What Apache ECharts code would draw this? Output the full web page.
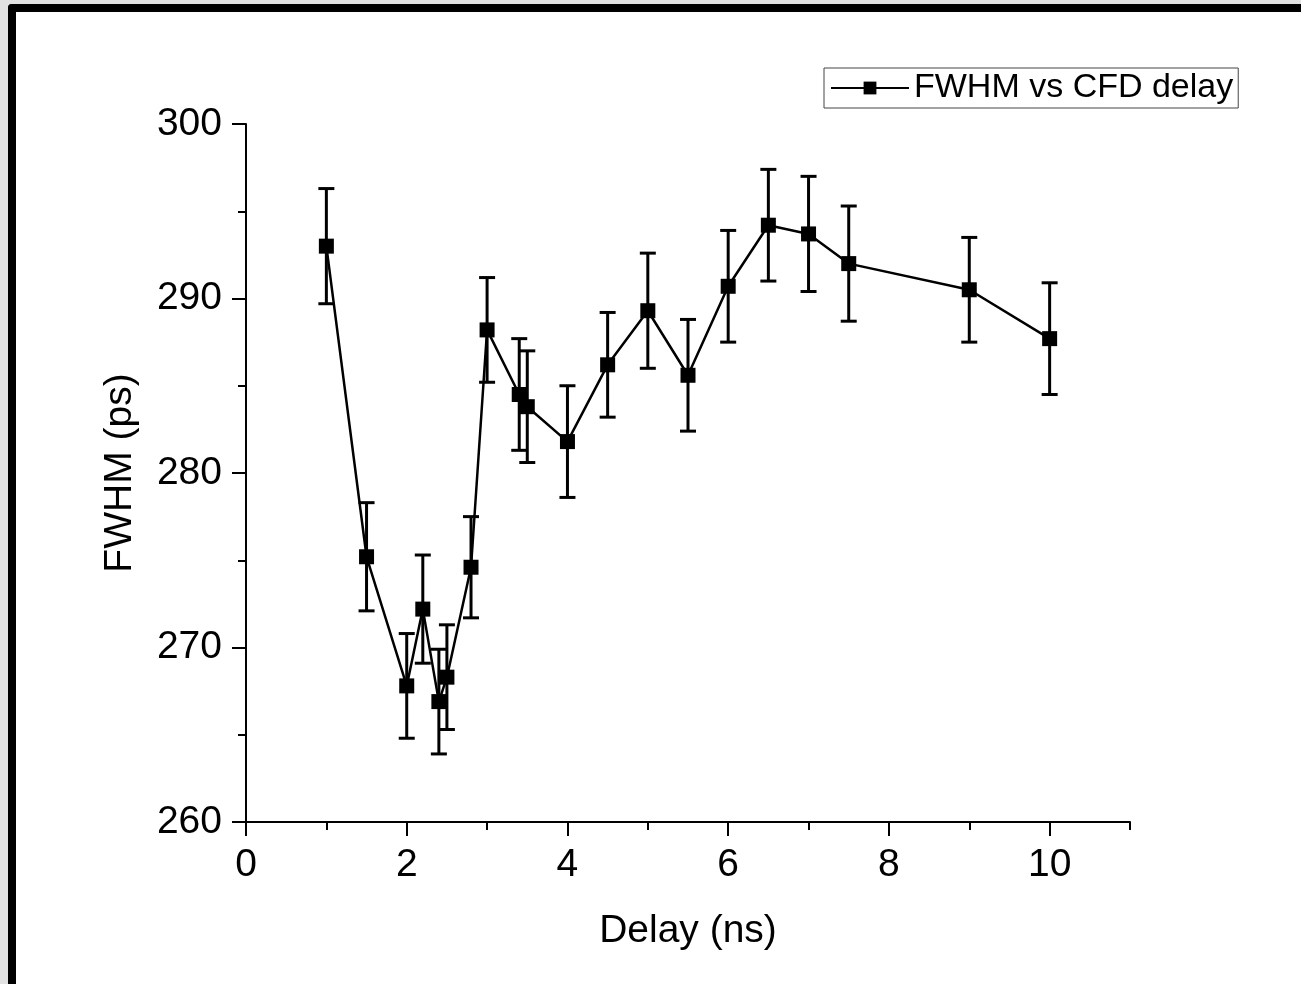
<!DOCTYPE html>
<html>
<head>
<meta charset="utf-8">
<title>FWHM vs CFD delay</title>
<script src="https://cdn.jsdelivr.net/npm/echarts@6/dist/echarts.min.js"></script>
<style>
  html, body { margin: 0; padding: 0; background: #e2e2e2; overflow: hidden; }
  #frame {
    position: absolute; left: 8px; top: 4px; width: 1293px; height: 980px;
    border-left: 8px solid #000; border-top: 8px solid #000;
    border-top-left-radius: 4px; background: #fff; box-sizing: border-box;
  }
  #chart { width: 1285px; height: 972px; }
</style>
</head>
<body>
<div id="frame"><div id="chart"></div></div>
<script>
// CFD delay (ns), measured FWHM (ps) and its uncertainty (ps)
const delays = [1, 1.5, 2, 2.2, 2.4, 2.5, 2.8, 3, 3.4, 3.5, 4, 4.5, 5, 5.5, 6, 6.5, 7, 7.5, 9, 10];
const fwhm   = [293.0, 275.2, 267.8, 272.2, 266.9, 268.3, 274.6, 288.2, 284.5, 283.8, 281.8, 286.2, 289.3, 285.6, 290.7, 294.2, 293.7, 292.0, 290.5, 287.7];
const errors = [3.3, 3.1, 3.0, 3.1, 3.0, 3.0, 2.9, 3.0, 3.2, 3.2, 3.2, 3.0, 3.3, 3.2, 3.2, 3.2, 3.3, 3.3, 3.0, 3.2];

const xMajor = [0, 2, 4, 6, 8, 10];
const xMinor = [1, 3, 5, 7, 9, 11];
const yMajor = [260, 270, 280, 290, 300];
const yMinor = [265, 275, 285, 295];

const seriesName = 'FWHM vs CFD delay';
const FONT = '"Liberation Sans", Arial, sans-serif';

const points = delays.map((d, i) => [d, fwhm[i]]);
const bars = delays.map((d, i) => [d, fwhm[i], errors[i]]);

const chart = echarts.init(document.getElementById('chart'), null, { renderer: 'canvas' });

const axisCommon = {
  type: 'value',
  splitLine: { show: false },
  axisLine: { show: true, onZero: false, lineStyle: { color: '#000', width: 2 } }
};

chart.setOption({
  backgroundColor: '#fff',
  animation: false,
  grid: { left: 230, top: 112, right: 171, bottom: 162 },
  legend: {
    left: 808, top: 56,
    data: [seriesName],
    itemWidth: 78, itemHeight: 16,
    padding: [3, 5, 3, 6],
    borderColor: '#444', borderWidth: 1,
    textStyle: { fontFamily: FONT, fontSize: 34, color: '#000' }
  },
  xAxis: [
    Object.assign({}, axisCommon, {
      min: 0, max: 11, position: 'bottom',
      name: 'Delay (ns)', nameLocation: 'middle', nameGap: 90,
      nameTextStyle: { fontFamily: FONT, fontSize: 39, color: '#000' },
      axisTick: { show: true, length: 14, customValues: xMajor, lineStyle: { color: '#000', width: 2 } },
      axisLabel: { customValues: xMajor, margin: 24, fontFamily: FONT, fontSize: 39, color: '#000' }
    }),
    Object.assign({}, axisCommon, {
      min: 0, max: 11, position: 'bottom',
      axisLine: { show: false, onZero: false },
      axisTick: { show: true, length: 8, customValues: xMinor, lineStyle: { color: '#000', width: 2 } },
      axisLabel: { show: false }
    })
  ],
  yAxis: [
    Object.assign({}, axisCommon, {
      min: 260, max: 300, position: 'left',
      name: 'FWHM (ps)', nameLocation: 'middle', nameGap: 106, nameRotate: 90,
      nameTextStyle: { fontFamily: FONT, fontSize: 39, color: '#000' },
      axisTick: { show: true, length: 14, customValues: yMajor, lineStyle: { color: '#000', width: 2 } },
      axisLabel: { customValues: yMajor, margin: 24, fontFamily: FONT, fontSize: 39, color: '#000' }
    }),
    Object.assign({}, axisCommon, {
      min: 260, max: 300, position: 'left',
      axisLine: { show: false, onZero: false },
      axisTick: { show: true, length: 8, customValues: yMinor, lineStyle: { color: '#000', width: 2 } },
      axisLabel: { show: false }
    })
  ],
  series: [
    {
      // vertical error bars with caps
      type: 'custom',
      name: 'errors',
      z: 2,
      data: bars,
      renderItem: function (params, api) {
        const x = api.value(0), y = api.value(1), e = api.value(2);
        const top = api.coord([x, y + e]);
        const bot = api.coord([x, y - e]);
        const hw = 8;
        const style = { stroke: '#000', lineWidth: 3 };
        return {
          type: 'group',
          children: [
            { type: 'line', shape: { x1: top[0], y1: top[1], x2: bot[0], y2: bot[1] }, style: style },
            { type: 'line', shape: { x1: top[0] - hw, y1: top[1], x2: top[0] + hw, y2: top[1] }, style: style },
            { type: 'line', shape: { x1: bot[0] - hw, y1: bot[1], x2: bot[0] + hw, y2: bot[1] }, style: style }
          ]
        };
      }
    },
    {
      type: 'line',
      name: seriesName,
      z: 3,
      data: points,
      symbol: 'rect',
      symbolSize: 15,
      showAllSymbol: true,
      itemStyle: { color: '#000' },
      lineStyle: { color: '#000', width: 2.5 }
    }
  ]
});
</script>
</body>
</html>
